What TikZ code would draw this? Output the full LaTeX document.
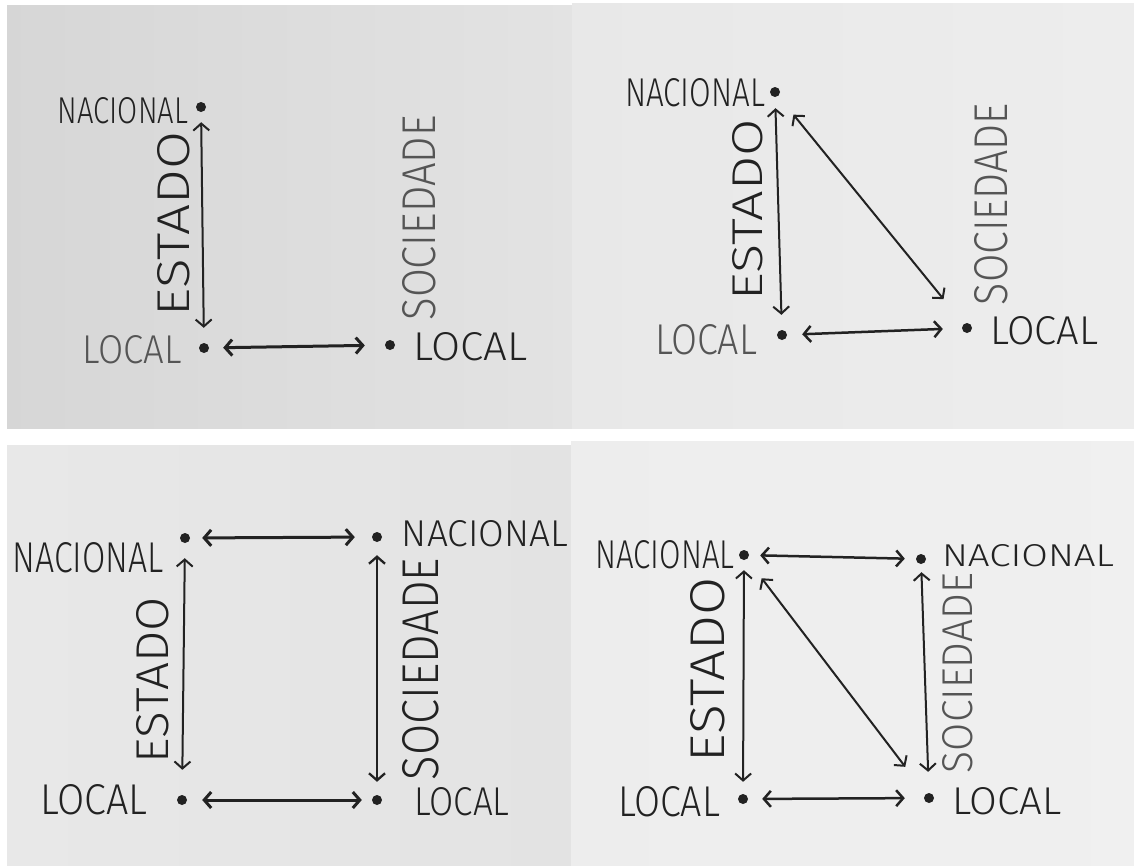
\documentclass[tikz,border=0pt]{standalone}
\usepackage{fontspec}
\setmainfont{Fira Sans}[UprightFont={* Light}]
\usetikzlibrary{arrows.meta}
\definecolor{ink}{HTML}{222222}
\definecolor{inkpale}{HTML}{555555}
\newcommand\handtext[3]{\resizebox{#1pt}{#2pt}{#3}}
\tikzset{
  dot/.style={circle, fill=ink, inner sep=0pt, minimum size=10pt},
  word/.style={inner sep=0pt, text=ink},
  pale/.style={text=inkpale},
  upword/.style={word, rotate=90},
  link/.style={draw=ink, line width=2pt, line cap=round,
    {Straight Barb[length=7pt,width=16pt]}-{Straight Barb[length=7pt,width=16pt]}},
  bold link/.style={link, line width=3pt},
}
\begin{document}
\begin{tikzpicture}[x=1pt,y=-1pt]
\useasboundingbox (0,0) rectangle (1134,865);
\fill[white] (0,0) rectangle (1134,865);
% the four sheets of paper
\shade[left color=black!16, right color=black!11] (7,5) rectangle (572,428);
\shade[left color=black!9, right color=black!7] (572,3) rectangle (1134,428);
\shade[left color=black!9, right color=black!11] (7,445) rectangle (571,865);
\shade[left color=black!7, right color=black!6] (571,441) rectangle (1134,865);

% ---------- sheet 1: Estado national-local, local link ----------
\node[dot] (tlN) at (201,107) {};
\node[dot] (tlL) at (204,348) {};
\node[dot] (tlR) at (390,345) {};
\node[word] (tlNt) at (123,111) {\handtext{130}{26}{NACIONAL}};
\node[word,pale] (tlLt) at (132,350) {\handtext{99}{28}{LOCAL}};
\node[word] (tlRt) at (470,347) {\handtext{114}{28}{LOCAL}};
\node[upword] (tlE) at (174,224) {\handtext{184}{32}{ESTADO}};
\node[upword,pale] (tlS) at (419,218) {\handtext{205}{33}{SOCIEDADE}};
\draw[link, shorten <=10pt, shorten >=15pt] (tlN) -- (tlL);
\draw[bold link, shorten <=14pt, shorten >=20pt] (tlL) -- (tlR);

% ---------- sheet 2: adds national state to local society ----------
\node[dot] (trN) at (775,92) {};
\node[dot] (trL) at (782,335) {};
\node[dot] (trR) at (967,328) {};
\node[word] (trNt) at (695,93) {\handtext{140}{28}{NACIONAL}};
\node[word,pale] (trLt) at (706,340) {\handtext{102}{30}{LOCAL}};
\node[word] (trRt) at (1044,331) {\handtext{108}{28}{LOCAL}};
\node[upword] (trE) at (748,210) {\handtext{181}{30}{ESTADO}};
\node[upword,pale] (trS) at (991,204) {\handtext{202}{33}{SOCIEDADE}};
\draw[link, shorten <=11pt, shorten >=15pt] (trN) -- (trL);
\draw[link, shorten <=24pt, shorten >=32pt] (trN) -- (trR);
\draw[link, line width=2.5pt, shorten <=15pt, shorten >=19pt] (trL) -- (trR);

% ---------- sheet 3: both scales on both sides ----------
\node[dot] (blN) at (185,538) {};
\node[dot] (blNR) at (377,537) {};
\node[dot] (blL) at (182,800) {};
\node[dot] (blR) at (377,800) {};
\node[word] (blNt) at (88,558) {\handtext{151}{30}{NACIONAL}};
\node[word] (blNRt) at (485,534) {\handtext{166}{26}{NACIONAL}};
\node[word] (blLt) at (94,800) {\handtext{107}{30}{LOCAL}};
\node[word] (blRt) at (462,802) {\handtext{95}{28}{LOCAL}};
\node[upword] (blE) at (153,680) {\handtext{166}{32}{ESTADO}};
\node[upword] (blS) at (421,669) {\handtext{222}{36}{SOCIEDADE}};
\draw[link, shorten <=15pt, shorten >=25pt] (blN) -- (blL);
\draw[link, line width=2.3pt, shorten <=13pt, shorten >=13pt] (blNR) -- (blR);
\draw[bold link, shorten <=12pt, shorten >=17pt] (blN) -- (blNR);
\draw[bold link, shorten <=15pt, shorten >=10pt] (blL) -- (blR);

% ---------- sheet 4: full square with the diagonal ----------
\node[dot] (brN) at (744,555) {};
\node[dot] (brNR) at (921,559) {};
\node[dot] (brL) at (743,799) {};
\node[dot] (brR) at (929,798) {};
\node[word] (brNt) at (665,555) {\handtext{139}{28}{NACIONAL}};
\node[word] (brNRt) at (1028,556) {\handtext{172}{22}{NACIONAL}};
\node[word] (brLt) at (669,802) {\handtext{102}{30}{LOCAL}};
\node[word] (brRt) at (1007,801) {\handtext{109}{27}{LOCAL}};
\node[upword] (brE) at (708,670) {\handtext{185}{34}{ESTADO}};
\node[upword,pale] (brS) at (958,673) {\handtext{200}{30}{SOCIEDADE}};
\draw[link, shorten <=10pt, shorten >=12pt] (brN) -- (brL);
\draw[link, shorten <=8pt, shorten >=21pt] (brNR) -- (brR);
\draw[link, shorten <=24pt, shorten >=34pt] (brN) -- (brR);
\draw[link, line width=2.5pt, shorten <=11pt, shorten >=11pt] (brN) -- (brNR);
\draw[link, line width=2.5pt, shorten <=14pt, shorten >=19pt] (brL) -- (brR);
\end{tikzpicture}
\end{document}
